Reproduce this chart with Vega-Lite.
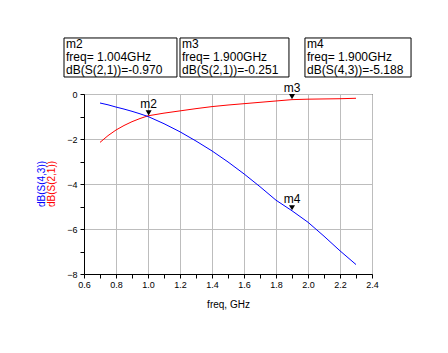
{
  "$schema": "https://vega.github.io/schema/vega-lite/v6.json",
  "width": 288,
  "height": 180,
  "autosize": {"type": "none"},
  "padding": {"left": 84, "top": 94, "right": 76, "bottom": 79},
  "background": "white",
  "config": {
    "view": {"stroke": "black", "strokeWidth": 1},
    "font": "Liberation Sans",
    "axis": {
      "domainColor": "black",
      "tickColor": "black",
      "tickSize": 4,
      "labelColor": "black",
      "labelFont": "Liberation Sans",
      "labelFontSize": 9,
      "titleFont": "Liberation Sans",
      "titleFontWeight": "normal",
      "titleColor": "black",
      "gridColor": "#bdbdbd",
      "gridWidth": 1
    }
  },
  "datasets": {
    "traces": [
      {"freq": 0.70, "dB": -2.15, "trace": "S21"},
      {"freq": 0.75, "dB": -1.85, "trace": "S21"},
      {"freq": 0.80, "dB": -1.60, "trace": "S21"},
      {"freq": 0.85, "dB": -1.40, "trace": "S21"},
      {"freq": 0.90, "dB": -1.23, "trace": "S21"},
      {"freq": 0.95, "dB": -1.09, "trace": "S21"},
      {"freq": 1.00, "dB": -0.97, "trace": "S21"},
      {"freq": 1.10, "dB": -0.85, "trace": "S21"},
      {"freq": 1.20, "dB": -0.75, "trace": "S21"},
      {"freq": 1.30, "dB": -0.65, "trace": "S21"},
      {"freq": 1.40, "dB": -0.56, "trace": "S21"},
      {"freq": 1.50, "dB": -0.49, "trace": "S21"},
      {"freq": 1.60, "dB": -0.43, "trace": "S21"},
      {"freq": 1.70, "dB": -0.37, "trace": "S21"},
      {"freq": 1.80, "dB": -0.31, "trace": "S21"},
      {"freq": 1.90, "dB": -0.25, "trace": "S21"},
      {"freq": 2.00, "dB": -0.23, "trace": "S21"},
      {"freq": 2.10, "dB": -0.22, "trace": "S21"},
      {"freq": 2.20, "dB": -0.21, "trace": "S21"},
      {"freq": 2.30, "dB": -0.19, "trace": "S21"},
      {"freq": 0.70, "dB": -0.40, "trace": "S43"},
      {"freq": 0.75, "dB": -0.48, "trace": "S43"},
      {"freq": 0.80, "dB": -0.58, "trace": "S43"},
      {"freq": 0.85, "dB": -0.67, "trace": "S43"},
      {"freq": 0.90, "dB": -0.77, "trace": "S43"},
      {"freq": 0.95, "dB": -0.88, "trace": "S43"},
      {"freq": 1.00, "dB": -1.00, "trace": "S43"},
      {"freq": 1.10, "dB": -1.32, "trace": "S43"},
      {"freq": 1.20, "dB": -1.68, "trace": "S43"},
      {"freq": 1.30, "dB": -2.09, "trace": "S43"},
      {"freq": 1.40, "dB": -2.53, "trace": "S43"},
      {"freq": 1.50, "dB": -3.02, "trace": "S43"},
      {"freq": 1.60, "dB": -3.55, "trace": "S43"},
      {"freq": 1.70, "dB": -4.12, "trace": "S43"},
      {"freq": 1.80, "dB": -4.72, "trace": "S43"},
      {"freq": 1.90, "dB": -5.19, "trace": "S43"},
      {"freq": 2.00, "dB": -5.70, "trace": "S43"},
      {"freq": 2.10, "dB": -6.32, "trace": "S43"},
      {"freq": 2.20, "dB": -6.97, "trace": "S43"},
      {"freq": 2.30, "dB": -7.58, "trace": "S43"}
    ],
    "markers": [
      {"name": "m2", "freq": 1.004, "dB": -0.970},
      {"name": "m3", "freq": 1.900, "dB": -0.251},
      {"name": "m4", "freq": 1.900, "dB": -5.188}
    ],
    "boxes": [
      {"x0": 0.475, "x1": 1.181, "top": 2.49, "bottom": 0.756, "label": ["m2", "freq= 1.004GHz", "dB(S(2,1))=-0.970"]},
      {"x0": 1.2, "x1": 1.881, "top": 2.49, "bottom": 0.756, "label": ["m3", "freq= 1.900GHz", "dB(S(2,1))=-0.251"]},
      {"x0": 1.981, "x1": 2.644, "top": 2.49, "bottom": 0.756, "label": ["m4", "freq= 1.900GHz", "dB(S(4,3))=-5.188"]}
    ],
    "ytitles": [
      {"freq": 0.336, "dB": -4.0, "text": "dB(S(4,3))", "trace": "S43"},
      {"freq": 0.398, "dB": -4.0, "text": "dB(S(2,1))", "trace": "S21"}
    ]
  },
  "layer": [
    {
      "data": {"name": "traces"},
      "mark": {"type": "line", "strokeWidth": 1, "clip": true},
      "encoding": {
        "x": {
          "field": "freq", "type": "quantitative",
          "scale": {"domain": [0.6, 2.4], "nice": false, "zero": false},
          "axis": {
            "title": "freq, GHz",
            "titleFontSize": 10,
            "titlePadding": 10,
            "values": [0.6, 0.7, 0.8, 0.9, 1.0, 1.1, 1.2, 1.3, 1.4, 1.5, 1.6, 1.7, 1.8, 1.9, 2.0, 2.1, 2.2, 2.3, 2.4],
            "tickCount": 100,
            "labelExpr": "round(datum.value*10)%2===0 ? format(datum.value,'.1f') : ''",
            "labelPadding": 2,
            "labelFlush": false,
            "labelOverlap": false,
            "grid": true,
            "gridOpacity": {"condition": {"test": "round(datum.value*10)%2===0", "value": 1}, "value": 0}
          }
        },
        "y": {
          "field": "dB", "type": "quantitative",
          "scale": {"domain": [-8, 0], "nice": false, "zero": false},
          "axis": {
            "title": null,
            "values": [-8, -7, -6, -5, -4, -3, -2, -1, 0],
            "tickCount": 100,
            "labelExpr": "abs(round(datum.value))%2===0 ? format(datum.value,'d') : ''",
            "labelPadding": 3,
            "labelFlush": false,
            "labelOverlap": false,
            "grid": true,
            "gridOpacity": {"condition": {"test": "abs(round(datum.value))%2===0", "value": 1}, "value": 0}
          }
        },
        "color": {
          "field": "trace", "type": "nominal",
          "scale": {"domain": ["S21", "S43"], "range": ["#ff0000", "#0000ff"]},
          "legend": null
        }
      }
    },
    {
      "data": {"name": "markers"},
      "mark": {"type": "point", "shape": "triangle-down", "filled": true, "color": "black", "size": 36, "opacity": 1, "yOffset": -3, "clip": false},
      "encoding": {
        "x": {"field": "freq", "type": "quantitative"},
        "y": {"field": "dB", "type": "quantitative"}
      }
    },
    {
      "data": {"name": "markers"},
      "mark": {"type": "text", "fontSize": 12, "color": "black", "baseline": "alphabetic", "align": "center", "dy": -8, "clip": false},
      "encoding": {
        "x": {"field": "freq", "type": "quantitative"},
        "y": {"field": "dB", "type": "quantitative"},
        "text": {"field": "name"}
      }
    },
    {
      "data": {"name": "boxes"},
      "mark": {"type": "rect", "fill": "white", "stroke": "black", "strokeWidth": 1, "clip": false},
      "encoding": {
        "x": {"field": "x0", "type": "quantitative"},
        "x2": {"field": "x1"},
        "y": {"field": "top", "type": "quantitative"},
        "y2": {"field": "bottom"}
      }
    },
    {
      "data": {"name": "boxes"},
      "mark": {"type": "text", "fontSize": 12, "color": "black", "align": "left", "baseline": "top", "lineHeight": 13, "dx": 2, "dy": 1, "clip": false},
      "encoding": {
        "x": {"field": "x0", "type": "quantitative"},
        "y": {"field": "top", "type": "quantitative"},
        "text": {"field": "label"}
      }
    },
    {
      "data": {"name": "ytitles"},
      "mark": {"type": "text", "fontSize": 10, "angle": 270, "align": "center", "baseline": "middle", "clip": false},
      "encoding": {
        "x": {"field": "freq", "type": "quantitative"},
        "y": {"field": "dB", "type": "quantitative"},
        "text": {"field": "text"},
        "color": {"field": "trace", "type": "nominal", "legend": null}
      }
    }
  ]
}
